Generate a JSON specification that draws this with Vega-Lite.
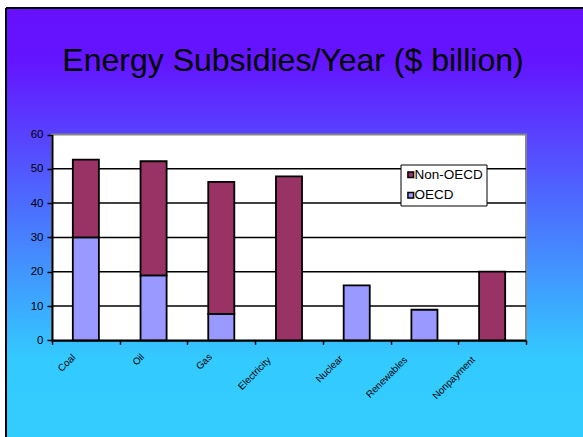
{
  "$schema": "https://vega.github.io/schema/vega-lite/v6.json",
  "width": 577,
  "height": 429,
  "autosize": {"type": "none"},
  "padding": {"left": 6, "top": 8, "right": 0, "bottom": 0},
  "background": "white",
  "config": {"view": {"stroke": null}, "font": "Liberation Sans"},
  "title": {
    "text": "Energy Subsidies/Year ($ billion)",
    "fontSize": 32,
    "font": "Liberation Sans",
    "fontWeight": "normal",
    "color": "black",
    "frame": "group",
    "anchor": "middle",
    "baseline": "alphabetic",
    "offset": 0,
    "dy": 96,
    "dx": -1.5
  },
  "datasets": {
    "subsidies": [
      {"source": "Coal", "region": "OECD", "value": 30},
      {"source": "Coal", "region": "Non-OECD", "value": 22.7},
      {"source": "Oil", "region": "OECD", "value": 18.9},
      {"source": "Oil", "region": "Non-OECD", "value": 33.3},
      {"source": "Gas", "region": "OECD", "value": 7.7},
      {"source": "Gas", "region": "Non-OECD", "value": 38.5},
      {"source": "Electricity", "region": "Non-OECD", "value": 47.8},
      {"source": "Nuclear", "region": "OECD", "value": 16},
      {"source": "Renewables", "region": "OECD", "value": 8.9},
      {"source": "Nonpayment", "region": "Non-OECD", "value": 20}
    ],
    "gridlines": [{"tick": 10}, {"tick": 20}, {"tick": 30}, {"tick": 40}, {"tick": 50}]
  },
  "layer": [
    {
      "data": {"values": [{}]},
      "mark": {
        "type": "rect",
        "fill": {
          "gradient": "linear",
          "x1": 0, "y1": 0, "x2": 0, "y2": 1,
          "stops": [
            {"offset": 0, "color": "#6611ff"},
            {"offset": 0.12, "color": "#6414ff"},
            {"offset": 0.82, "color": "#33cbff"},
            {"offset": 1, "color": "#33ccff"}
          ]
        },
        "stroke": "black",
        "strokeWidth": 2,
        "strokeDash": [577, 1006, 429, 0]
      },
      "encoding": {}
    },
    {
      "layer": [
        {
          "data": {"values": [{}]},
          "mark": {"type": "rect", "fill": "white", "stroke": "#858585", "strokeWidth": 2},
          "encoding": {
            "x": {"datum": 0, "type": "quantitative", "scale": {"domain": [0, 1], "range": [46, 520]}, "axis": null},
            "x2": {"datum": 1},
            "y": {"datum": 0, "type": "quantitative"},
            "y2": {"datum": 60}
          }
        },
        {
          "data": {"name": "gridlines"},
          "mark": {"type": "rule", "color": "black", "strokeWidth": 1.5},
          "encoding": {
            "x": {"datum": 0, "type": "quantitative", "axis": null},
            "x2": {"datum": 1},
            "y": {"field": "tick", "type": "quantitative"}
          }
        }
      ]
    },
    {
      "data": {"name": "subsidies"},
      "mark": {"type": "bar", "stroke": "black", "strokeWidth": 1.8, "width": {"band": 0.385}},
      "encoding": {
        "x": {
          "field": "source",
          "type": "nominal",
          "sort": ["Coal", "Oil", "Gas", "Electricity", "Nuclear", "Renewables", "Nonpayment"],
          "scale": {"range": [46, 520], "paddingInner": 0, "paddingOuter": 0},
          "axis": {
            "title": null,
            "orient": "bottom",
            "offset": -96.7,
            "zindex": 1,
            "grid": false,
            "domainColor": "black",
            "domainWidth": 2,
            "tickBand": "extent",
            "tickColor": "black",
            "tickSize": 4,
            "tickWidth": 1.5,
            "labelAngle": -45,
            "labelAlign": "right",
            "labelBaseline": "middle",
            "labelFont": "Liberation Sans",
            "labelFontSize": 9.8,
            "labelColor": "black",
            "labelOverlap": false,
            "labelPadding": {"expr": "9.5 + 0.4*length(datum.label)"},
            "labelOffset": {"expr": "-8 - 1.1*length(datum.label)"}
          }
        },
        "y": {
          "field": "value",
          "type": "quantitative",
          "stack": "zero",
          "scale": {"domain": [0, 60], "range": [332.3, 126.5], "nice": false, "zero": true},
          "axis": {
            "title": null,
            "orient": "left",
            "offset": -46,
            "zindex": 1,
            "grid": false,
            "values": [0, 10, 20, 30, 40, 50, 60],
            "domainColor": "black",
            "domainWidth": 2,
            "tickColor": "black",
            "tickSize": 5,
            "tickWidth": 1.5,
            "labelFont": "Liberation Sans",
            "labelFontSize": 11.5,
            "labelColor": "black",
            "labelPadding": 4
          }
        },
        "color": {
          "field": "region",
          "type": "nominal",
          "scale": {"domain": ["Non-OECD", "OECD"], "range": ["#993366", "#9999ff"]},
          "legend": {
            "title": null,
            "orient": "none",
            "direction": "vertical",
            "legendX": 394.5,
            "legendY": 156.5,
            "fillColor": "white",
            "strokeColor": "black",
            "padding": 3.5,
            "rowPadding": 5.5,
            "symbolType": "square",
            "symbolSize": 32,
            "symbolStrokeColor": "black",
            "symbolStrokeWidth": 1.5,
            "labelFont": "Liberation Sans",
            "labelFontSize": 13.5,
            "labelColor": "black",
            "labelOffset": -3,
            "labelLimit": 200
          }
        },
        "order": {"field": "region", "sort": "descending"}
      }
    }
  ],
  "resolve": {"scale": {"x": "independent"}}
}
